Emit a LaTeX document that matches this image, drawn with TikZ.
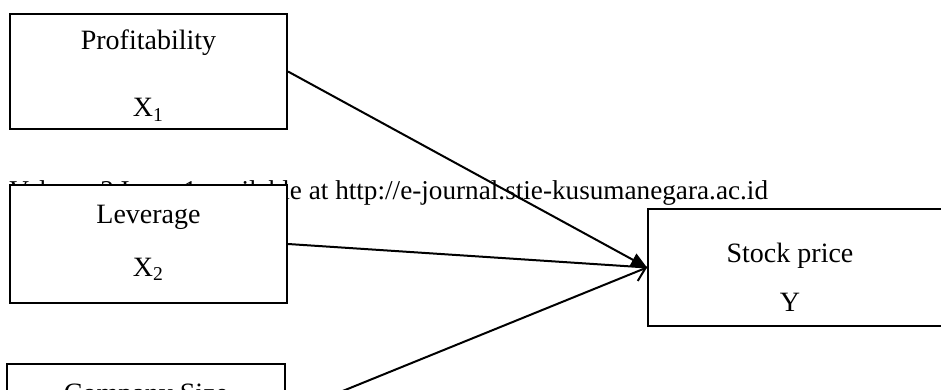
\documentclass[tikz,border=0pt]{standalone}
\usepackage{fontspec}
\setmainfont{Liberation Serif}
\usetikzlibrary{arrows.meta}
\begin{document}
\begin{tikzpicture}[x=0.5pt,y=-0.5pt,
    box/.style={draw,fill=white,line width=1pt,inner sep=0pt},
    txt/.style={anchor=base,inner sep=0pt,font=\fontsize{14}{16}\selectfont},
    arr/.style={line width=1pt}]
  \useasboundingbox (0,0) rectangle (941,390);
  \clip (0,0) rectangle (941,390);
  % header line of the page, partly hidden by the boxes
  \node[txt,anchor=base west,font=\fontsize{13.6}{16}\selectfont] (head) at (9,199) {Volume 2 Issue 1 available at http://e-journal.stie-kusumanegara.ac.id};
  \node[box,minimum width=138.5pt,minimum height=57.5pt] (prof) at (148.5,71.5) {};
  \node[txt] (proft) at (148.5,50) {Profitability};
  \node[txt] (profx) at (148.5,117) {X\textsubscript{1}};
  \node[box,minimum width=138.5pt,minimum height=59pt] (lev) at (148.5,244) {};
  \node[txt] (levt) at (148.5,223) {Leverage};
  \node[txt] (levx) at (148.5,276) {X\textsubscript{2}};
  \node[box,minimum width=139pt,minimum height=50pt] (size) at (146,414) {};
  \node[txt] (sizet) at (146,402) {Company Size};
  \node[box,minimum width=148.5pt,minimum height=58.5pt] (price) at (796.5,267.5) {};
  \node[txt] (pricet) at (790,262) {Stock price};
  \node[txt] (pricey) at (790,311) {Y};
  \draw[arr,-{Triangle[length=8pt,width=7pt]}] (prof.east) -- (price.west);
  \draw[arr] (lev.east) -- (price.west);
  \draw[arr,-{Straight Barb[length=6pt,width=9pt]}] (size.east) -- (price.west);
\end{tikzpicture}
\end{document}
